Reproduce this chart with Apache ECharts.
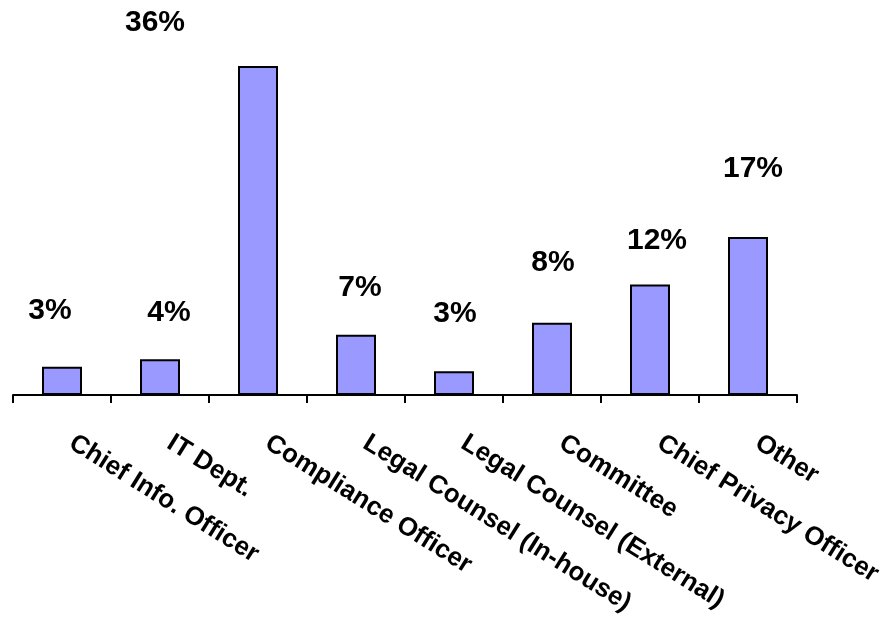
<!DOCTYPE html>
<html>
<head>
<meta charset="utf-8">
<script src="https://cdn.jsdelivr.net/npm/echarts@6/dist/echarts.min.js"></script>
<style>
html,body{margin:0;padding:0;background:#fff;}
#c{width:886px;height:620px;}
</style>
</head>
<body>
<div id="c"></div>
<script>
const categories = ['Chief Info. Officer', 'IT Dept.', 'Compliance Officer', 'Legal Counsel (In-house)', 'Legal Counsel (External)', 'Committee', 'Chief Privacy Officer', 'Other'];
const values = [3.1, 3.9, 36, 6.6, 2.6, 7.9, 12.1, 17.3];
const valueLabels = ['3%', '4%', '36%', '7%', '3%', '8%', '12%', '17%'];
const labelOffsets = [[-12, -36], [9, -27], [-103, -23], [4, -27], [1, -38], [1, -40], [7, -24], [5, -48]];

const chart = echarts.init(document.getElementById('c'), null, {renderer: 'canvas'});
const data = values.map((v, i) => ({
  value: v,
  label: {offset: labelOffsets[i]}
}));
chart.setOption({
  animation: false,
  backgroundColor: '#ffffff',
  grid: {left: 13, right: 89, top: 66, bottom: 225, containLabel: false},
  xAxis: {
    type: 'category',
    data: categories,
    boundaryGap: true,
    axisLine: {show: true, lineStyle: {color: '#000', width: 2}},
    axisTick: {show: true, alignWithLabel: false, length: 8, lineStyle: {color: '#000', width: 2}},
    axisLabel: {
      interval: 0,
      rotate: -32,
      margin: 40,
      padding: [0, 0, 0, 11],
      color: '#000',
      fontFamily: 'Liberation Sans, Arial, sans-serif',
      fontWeight: 'bold',
      fontSize: 26
    },
    splitLine: {show: false}
  },
  yAxis: {
    type: 'value',
    min: 0,
    max: 36,
    show: false,
    splitLine: {show: false}
  },
  series: [{
    type: 'bar',
    data: data,
    barWidth: 40,
    itemStyle: {color: '#9999FF', borderColor: '#000', borderWidth: 2},
    label: {
      show: true,
      position: 'top',
      distance: 5,
      color: '#000',
      fontFamily: 'Liberation Sans, Arial, sans-serif',
      fontWeight: 'bold',
      fontSize: 30,
      formatter: p => valueLabels[p.dataIndex]
    }
  }]
});
</script>
</body>
</html>
